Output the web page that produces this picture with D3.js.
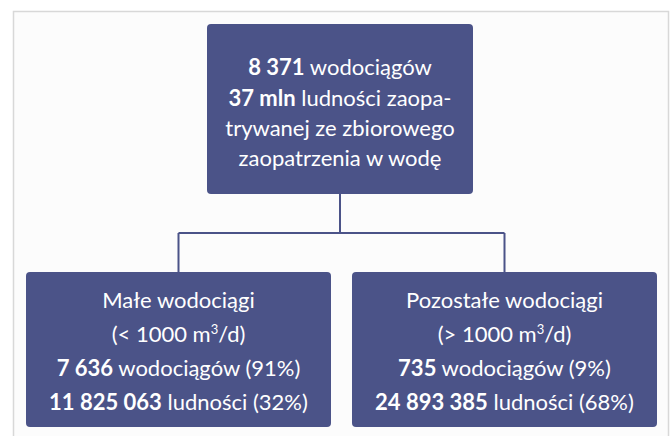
<!DOCTYPE html>
<html>
<head>
<meta charset="utf-8">
<script src="https://cdn.jsdelivr.net/npm/d3@7"></script>
<style>
  body { margin: 0; background: #fff; }
  svg { display: block; font-family: "Source Sans Pro", Lato, sans-serif; }
</style>
</head>
<body>
<div class="chart"></div>
<script>
// data
let totalPlants = 8371;
let totalPeopleMln = 37;
let topLines = ["ludności zaopa-", "trywanej ze zbiorowego", "zaopatrzenia w wodę"];

let categories = ["Małe wodociągi", "Pozostałe wodociągi"];
let ranges = ["(< 1000 m³/d)", "(> 1000 m³/d)"];
let plants = [7636, 735];
let plantsPct = [91, 9];
let people = [11825063, 24893385];
let peoplePct = [32, 68];

let svgWidth = 671;
let svgHeight = 436;
let boxColor = "#4b5388";

let pl = d3.formatLocale({decimal: ",", thousands: " ", grouping: [3], currency: ["", ""]});
let fmt = pl.format(",");

let svg = d3.select(".chart")
  .append("svg")
  .attr("width", svgWidth)
  .attr("height", svgHeight);

// frame
svg.append("rect")
  .attr("x", 13.5)
  .attr("y", 11.5)
  .attr("width", 655)
  .attr("height", 440)
  .attr("fill", "#fcfcfc")
  .attr("stroke", "#d8d8d8")
  .attr("stroke-width", 1.5);

// scales
let x = d3.scaleBand()
  .domain(categories)
  .range([26, 657])
  .paddingInner(0.0644)
  .paddingOuter(0);

let topBox = {x: 207, y: 24, w: 266, h: 170};
let childTop = 272, childBottom = 427;
let joinY = 233;
let topCx = topBox.x + topBox.w / 2;

// connectors
let lines = svg.append("g")
  .attr("fill", "none")
  .attr("stroke", boxColor)
  .attr("stroke-width", 2);

lines.append("line")
  .attr("x1", topCx).attr("x2", topCx)
  .attr("y1", topBox.y + topBox.h).attr("y2", joinY);

lines.append("line")
  .attr("x1", x(categories[0]) + x.bandwidth() / 2)
  .attr("x2", x(categories[1]) + x.bandwidth() / 2)
  .attr("y1", joinY).attr("y2", joinY);

lines.selectAll(".drop")
  .data(categories)
  .enter()
  .append("line")
  .attr("class", "drop")
  .attr("x1", d => x(d) + x.bandwidth() / 2)
  .attr("x2", d => x(d) + x.bandwidth() / 2)
  .attr("y1", joinY)
  .attr("y2", childTop);

// top box
svg.append("rect")
  .attr("x", topBox.x)
  .attr("y", topBox.y)
  .attr("width", topBox.w)
  .attr("height", topBox.h)
  .attr("rx", 4)
  .attr("fill", boxColor);

let topText = svg.append("text")
  .attr("fill", "#fff")
  .attr("text-anchor", "middle")
  .style("font-size", "22px");

let t1 = topText.append("tspan").attr("x", topCx).attr("y", 75);
t1.append("tspan").attr("font-weight", "bold").text(fmt(totalPlants));
t1.append("tspan").text(" wodociągów");

let t2 = topText.append("tspan").attr("x", topCx).attr("y", 106);
t2.append("tspan").attr("font-weight", "bold").text(totalPeopleMln + " mln");
t2.append("tspan").text(" " + topLines[0]);

topText.append("tspan").attr("x", topCx).attr("y", 136).text(topLines[1]);
topText.append("tspan").attr("x", topCx).attr("y", 166).text(topLines[2]);

// child boxes
let rows = categories.map((c, i) => ({
  name: c, range: ranges[i], plants: plants[i], plantsPct: plantsPct[i],
  people: people[i], peoplePct: peoplePct[i]
}));

let child = svg.selectAll(".child")
  .data(rows)
  .enter()
  .append("g")
  .attr("class", "child");

child.append("rect")
  .attr("x", d => x(d.name))
  .attr("y", childTop)
  .attr("width", x.bandwidth())
  .attr("height", childBottom - childTop)
  .attr("rx", 4)
  .attr("fill", boxColor);

let ct = child.append("text")
  .attr("fill", "#fff")
  .attr("text-anchor", "middle")
  .style("font-size", "22px");

ct.append("tspan")
  .attr("x", d => x(d.name) + x.bandwidth() / 2)
  .attr("y", 308)
  .text(d => d.name);

// range line, with a real superscript for m3
let c2 = ct.append("tspan")
  .attr("x", d => x(d.name) + x.bandwidth() / 2)
  .attr("y", 342);
c2.append("tspan").text(d => d.range.split("³")[0]);
c2.append("tspan")
  .attr("dy", -8)
  .style("font-size", "13px")
  .text("3");
c2.append("tspan")
  .attr("dy", 8)
  .text(d => d.range.split("³")[1]);

let c3 = ct.append("tspan")
  .attr("x", d => x(d.name) + x.bandwidth() / 2)
  .attr("y", 376);
c3.append("tspan").attr("font-weight", "bold").text(d => fmt(d.plants));
c3.append("tspan").text(d => " wodociągów (" + d.plantsPct + "%)");

let c4 = ct.append("tspan")
  .attr("x", d => x(d.name) + x.bandwidth() / 2)
  .attr("y", 410);
c4.append("tspan").attr("font-weight", "bold").text(d => fmt(d.people));
c4.append("tspan").text(d => " ludności (" + d.peoplePct + "%)");
</script>
</body>
</html>
